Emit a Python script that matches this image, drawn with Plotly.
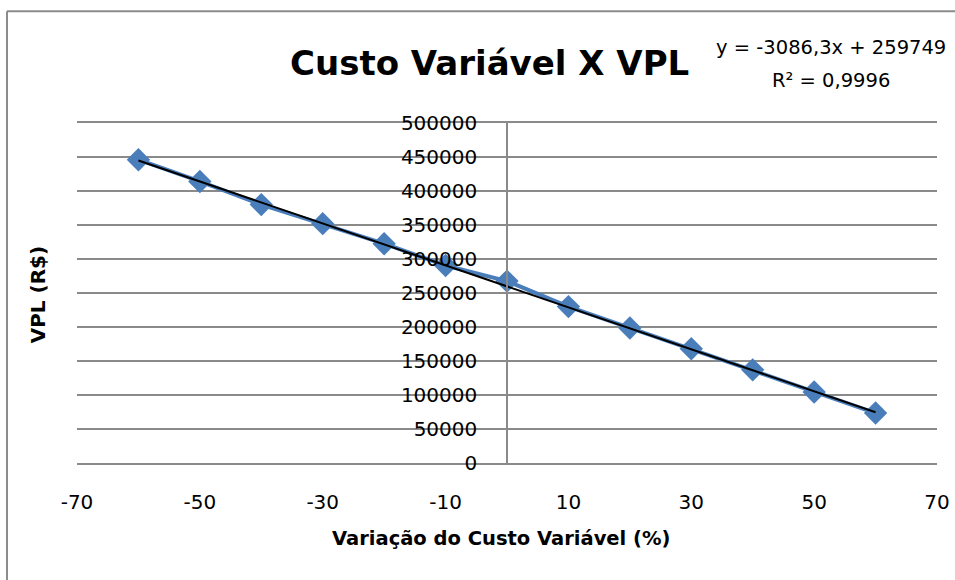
import plotly.graph_objects as go

# Data
variacao = [-60, -50, -40, -30, -20, -10, 0, 10, 20, 30, 40, 50, 60]
vpl = [446000, 414000, 380000, 352000, 322500, 290500, 267500,
       230000, 198500, 168000, 137000, 104500, 73500]

# Trendline as reported on the chart
slope = -3086.3
intercept = 259749
trend_x = [variacao[0], variacao[-1]]
trend_y = [slope * x + intercept for x in trend_x]

x_ticks = [-70, -50, -30, -10, 10, 30, 50, 70]
y_ticks = [0, 50000, 100000, 150000, 200000, 250000, 300000, 350000, 400000, 450000, 500000]

title_text = "Custo Variável X VPL"
eq_line1 = "y = -3086,3x + 259749"
eq_line2 = "R² = 0,9996"
x_title = "Variação do Custo Variável (%)"
y_title = "VPL (R$)"

FONT = "DejaVu Sans, Liberation Sans, Arial, sans-serif"
GRID = "#8a8a8a"

fig = go.Figure()
fig.add_trace(go.Scatter(
    x=variacao, y=vpl, mode="lines+markers",
    line=dict(color="#4a7ebb", width=4),
    marker=dict(symbol="diamond", size=18, color="#4a7ebb"),
    showlegend=False, hoverinfo="x+y"))
fig.add_trace(go.Scatter(
    x=trend_x, y=trend_y, mode="lines",
    line=dict(color="black", width=2),
    showlegend=False, hoverinfo="skip"))

fig.update_layout(
    width=955, height=580,
    margin=dict(l=77, r=18, t=123, b=117),
    paper_bgcolor="white", plot_bgcolor="white",
    font=dict(family=FONT, color="black", size=21),
    xaxis=dict(range=[-70, 70], tickvals=x_ticks, ticktext=[str(v) for v in x_ticks],
               showgrid=False, zeroline=False, showline=True, mirror=True,
               linecolor=GRID, linewidth=1.5, ticks="", automargin=False,
               ticklabelstandoff=20, tickfont=dict(size=20)),
    yaxis=dict(range=[0, 500000], tickvals=y_ticks, ticktext=[str(v) for v in y_ticks],
               anchor="free", position=0.5, side="left", automargin=False,
               showgrid=True, gridcolor=GRID, gridwidth=1.5,
               zeroline=False, showline=True, linecolor=GRID, linewidth=1.5,
               ticks="", ticklabelstandoff=25, tickfont=dict(size=20)),
    shapes=[
        dict(type="line", xref="paper", yref="paper", x0=-0.0814, x1=2, y0=1.3285, y1=1.3285,
             line=dict(color="#8c8c8c", width=2)),
        dict(type="line", xref="paper", yref="paper", x0=-0.0814, x1=-0.0814, y0=-2, y1=1.3285,
             line=dict(color="#8c8c8c", width=2)),
    ],
    annotations=[
        dict(text="<b>" + title_text + "</b>", xref="paper", yref="paper",
             x=(489 - 77) / 860, y=(462.7 - 63) / 340, showarrow=False,
             xanchor="center", yanchor="middle", font=dict(size=34)),
        dict(text=eq_line1, xref="paper", yref="paper",
             x=(831 - 77) / 860, y=(462.7 - 47) / 340, showarrow=False,
             xanchor="center", yanchor="middle", font=dict(size=19.5)),
        dict(text=eq_line2, xref="paper", yref="paper",
             x=(831 - 77) / 860, y=(462.7 - 80) / 340, showarrow=False,
             xanchor="center", yanchor="middle", font=dict(size=19.5)),
        dict(text="<b>" + x_title + "</b>", xref="paper", yref="paper",
             x=(501 - 77) / 860, y=(462.7 - 538) / 340, showarrow=False,
             xanchor="center", yanchor="middle", font=dict(size=19.5)),
        dict(text="<b>" + y_title + "</b>", xref="paper", yref="paper",
             x=(38 - 77) / 860, y=(462.7 - 295) / 340, showarrow=False,
             xanchor="center", yanchor="middle", textangle=-90, font=dict(size=20)),
    ],
)

fig.write_html("out.html", config={"displayModeBar": False},
               post_script="document.body.style.margin='0';")
